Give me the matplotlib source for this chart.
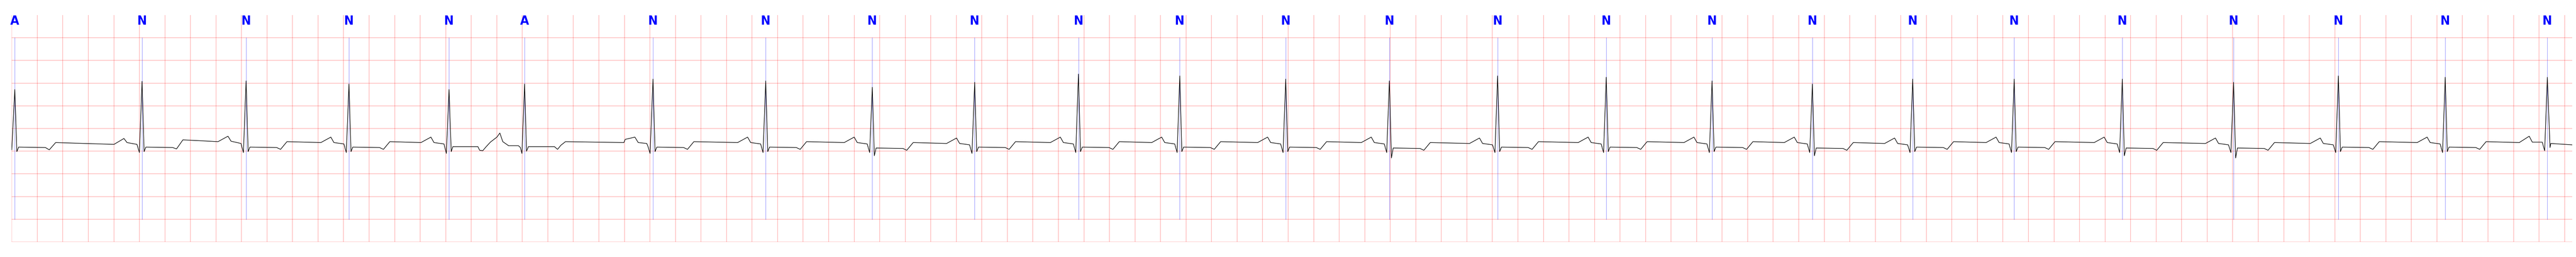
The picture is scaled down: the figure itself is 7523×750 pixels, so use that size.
import matplotlib
matplotlib.use("Agg")
import matplotlib.pyplot as plt
import numpy as np

# beat annotations: R-peak time (s) and label
beat_t = [0.024, 1.021, 1.836, 2.642, 3.426, 4.018, 5.024, 5.907, 6.742, 7.544,
          8.357, 9.151, 9.981, 10.793, 11.641, 12.492, 13.321, 14.107, 14.893,
          15.688, 16.535, 17.407, 18.228, 19.065, 19.865]
beat_label = ["A", "N", "N", "N", "N", "A", "N", "N", "N", "N", "N", "N", "N",
              "N", "N", "N", "N", "N", "N", "N", "N", "N", "N", "N", "N"]

ecg_t = [
    0.000, 0.024, 0.040, 0.054, 0.264, 0.294, 0.344, 0.801, 0.879, 0.903, 0.981, 1.000,
    1.021, 1.037, 1.051, 1.261, 1.291, 1.341, 1.616, 1.694, 1.718, 1.796, 1.815,
    1.836, 1.852, 1.866, 2.076, 2.106, 2.156, 2.422, 2.500, 2.524, 2.602, 2.621,
    2.642, 2.658, 2.672, 2.882, 2.912, 2.962, 3.206, 3.284, 3.308, 3.386, 3.405,
    3.426, 3.443, 3.456, 3.652, 3.666, 3.690, 3.714, 3.750, 3.801, 3.824, 3.847, 3.893, 3.970, 3.985, 3.997,
    4.018, 4.033, 4.048, 4.252, 4.276, 4.302, 4.338, 4.796, 4.806, 4.882, 4.908, 4.975, 4.985, 5.001,
    5.024, 5.040, 5.054, 5.264, 5.294, 5.344, 5.687, 5.765, 5.789, 5.867, 5.886,
    5.907, 5.923, 5.937, 6.147, 6.177, 6.227, 6.522, 6.600, 6.624, 6.702, 6.721,
    6.742, 6.758, 6.772, 6.982, 7.012, 7.062, 7.324, 7.402, 7.426, 7.504, 7.523,
    7.544, 7.560, 7.574, 7.784, 7.814, 7.864, 8.137, 8.215, 8.239, 8.317, 8.336,
    8.357, 8.373, 8.387, 8.597, 8.627, 8.677, 8.931, 9.009, 9.033, 9.111, 9.130,
    9.151, 9.167, 9.181, 9.391, 9.421, 9.471, 9.761, 9.839, 9.863, 9.941, 9.960,
    9.981, 9.997, 10.011, 10.221, 10.251, 10.301, 10.573, 10.651, 10.675, 10.753, 10.772,
    10.793, 10.809, 10.823, 11.033, 11.063, 11.113, 11.421, 11.499, 11.523, 11.601, 11.620,
    11.641, 11.657, 11.671, 11.881, 11.911, 11.961, 12.272, 12.350, 12.374, 12.452, 12.471,
    12.492, 12.508, 12.522, 12.732, 12.762, 12.812, 13.101, 13.179, 13.203, 13.281, 13.300,
    13.321, 13.337, 13.351, 13.561, 13.591, 13.641, 13.887, 13.965, 13.989, 14.067, 14.086,
    14.107, 14.123, 14.137, 14.347, 14.377, 14.427, 14.673, 14.751, 14.775, 14.853, 14.872,
    14.893, 14.909, 14.923, 15.133, 15.163, 15.213, 15.468, 15.546, 15.570, 15.648, 15.667,
    15.688, 15.704, 15.718, 15.928, 15.958, 16.008, 16.315, 16.393, 16.417, 16.495, 16.514,
    16.535, 16.551, 16.565, 16.775, 16.805, 16.855, 17.187, 17.265, 17.289, 17.367, 17.386,
    17.407, 17.423, 17.437, 17.647, 17.677, 17.727, 18.008, 18.086, 18.110, 18.188, 18.207,
    18.228, 18.244, 18.258, 18.468, 18.498, 18.548, 18.845, 18.923, 18.947, 19.025, 19.044,
    19.065, 19.081, 19.095, 19.305, 19.335, 19.385, 19.645, 19.723, 19.747, 19.825, 19.844,
    19.865, 19.886, 19.892, 20.060,
]
ecg_mv = [
    -0.47, 0.86, -0.51, -0.41, -0.42, -0.47, -0.31, -0.35, -0.22, -0.31, -0.35, -0.53,
    1.04, -0.51, -0.41, -0.42, -0.45, -0.25, -0.29, -0.17, -0.28, -0.33, -0.53,
    1.05, -0.51, -0.41, -0.42, -0.46, -0.29, -0.31, -0.19, -0.31, -0.34, -0.53,
    0.98, -0.51, -0.41, -0.42, -0.46, -0.29, -0.31, -0.19, -0.31, -0.34, -0.55,
    0.86, -0.51, -0.40, -0.40, -0.48, -0.49, -0.41, -0.30, -0.19, -0.10, -0.29, -0.38, -0.38, -0.42, -0.55,
    0.98, -0.50, -0.40, -0.40, -0.46, -0.37, -0.29, -0.31, -0.24, -0.19, -0.31, -0.33, -0.40, -0.55,
    1.09, -0.51, -0.41, -0.42, -0.46, -0.29, -0.31, -0.19, -0.31, -0.34, -0.53,
    1.05, -0.51, -0.41, -0.42, -0.46, -0.29, -0.31, -0.19, -0.31, -0.34, -0.53,
    0.91, -0.60, -0.43, -0.44, -0.48, -0.31, -0.33, -0.21, -0.33, -0.36, -0.55,
    1.02, -0.51, -0.41, -0.42, -0.46, -0.29, -0.31, -0.19, -0.31, -0.34, -0.53,
    1.20, -0.51, -0.41, -0.42, -0.46, -0.29, -0.31, -0.19, -0.31, -0.34, -0.53,
    1.16, -0.51, -0.41, -0.42, -0.46, -0.29, -0.31, -0.19, -0.31, -0.34, -0.53,
    1.09, -0.51, -0.41, -0.42, -0.46, -0.29, -0.31, -0.19, -0.31, -0.34, -0.53,
    1.05, -0.65, -0.43, -0.44, -0.48, -0.31, -0.33, -0.21, -0.33, -0.36, -0.53,
    1.16, -0.51, -0.41, -0.42, -0.46, -0.29, -0.31, -0.19, -0.31, -0.34, -0.53,
    1.13, -0.51, -0.41, -0.42, -0.46, -0.29, -0.31, -0.19, -0.31, -0.34, -0.53,
    1.05, -0.51, -0.41, -0.42, -0.46, -0.29, -0.31, -0.19, -0.31, -0.34, -0.53,
    0.98, -0.60, -0.43, -0.44, -0.48, -0.31, -0.33, -0.21, -0.33, -0.36, -0.53,
    1.09, -0.51, -0.41, -0.42, -0.46, -0.29, -0.31, -0.19, -0.31, -0.34, -0.53,
    1.09, -0.51, -0.41, -0.42, -0.46, -0.29, -0.31, -0.19, -0.31, -0.34, -0.53,
    1.09, -0.60, -0.43, -0.44, -0.48, -0.31, -0.33, -0.21, -0.33, -0.36, -0.53,
    1.02, -0.65, -0.43, -0.44, -0.48, -0.31, -0.33, -0.21, -0.33, -0.36, -0.53,
    1.16, -0.51, -0.41, -0.42, -0.46, -0.29, -0.31, -0.19, -0.31, -0.34, -0.53,
    1.13, -0.51, -0.41, -0.42, -0.46, -0.29, -0.31, -0.17, -0.30, -0.30, -0.49,
    1.13, -0.42, -0.33, -0.36,
]

fig = plt.figure(figsize=(75.23, 7.5), dpi=100)
ax = fig.add_axes([34.3 / 7523, 44 / 750, (7512 - 34.3) / 7523, 662 / 750])
ax.set_xlim(0, 20.06)
ax.set_ylim(-2.5, 2.5)

# ECG paper grid: 0.2 s x 0.5 mV
for x in np.arange(0, 20.06, 0.2):
    ax.axvline(x, color="red", alpha=0.25, lw=1.5, zorder=0)
for y in np.arange(-2.5, 2.5, 0.5):
    ax.axhline(y, color="red", alpha=0.25, lw=1.5, zorder=0)

ax.plot(ecg_t, ecg_mv, color="black", lw=1.2, zorder=3)

# beat markers and labels
for t, lab in zip(beat_t, beat_label):
    ax.plot([t, t], [-2, 2], color="blue", alpha=0.5, lw=0.8, zorder=2)
    ax.text(t, 2.5, lab, color="blue", fontsize=27, fontweight="bold",
            fontstretch="condensed", ha="center", va="top")

ax.axis("off")
fig.savefig("out.png", dpi=100, facecolor="white")
